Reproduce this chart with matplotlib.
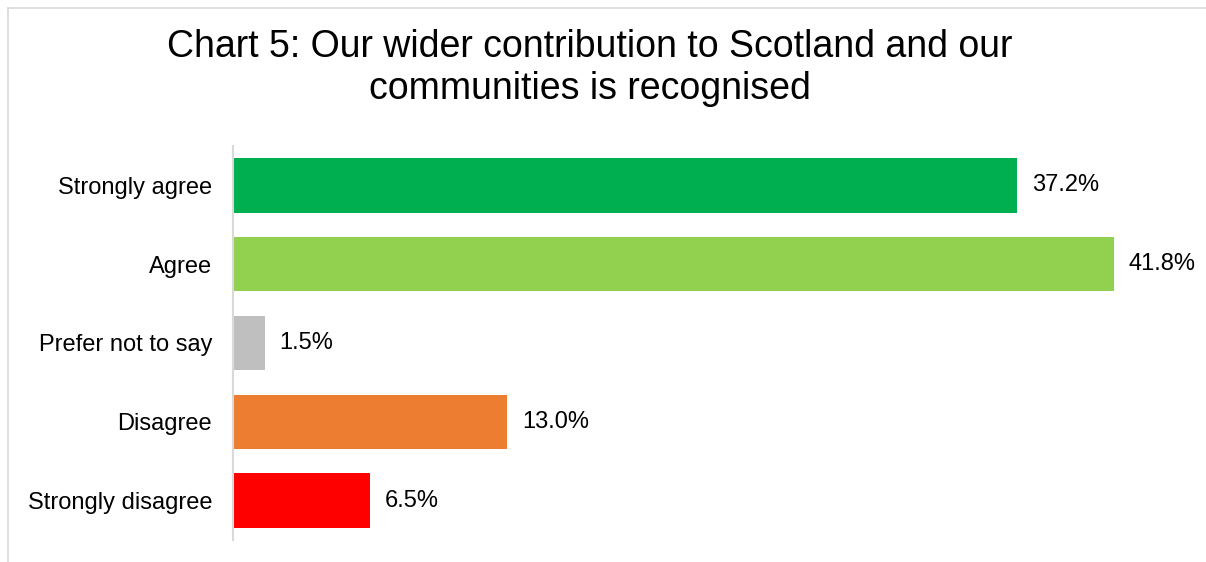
import matplotlib.pyplot as plt
from matplotlib.lines import Line2D

plt.rcParams['font.family'] = ['Liberation Sans', 'DejaVu Sans']

# survey responses, top to bottom
categories = ['Strongly agree', 'Agree', 'Prefer not to say', 'Disagree', 'Strongly disagree']
percent = [37.2, 41.8, 1.5, 13.0, 6.5]
colours = ['#00B050', '#92D050', '#BFBFBF', '#ED7D31', '#FF0000']

W, H = 1206, 562
fig = plt.figure(figsize=(W / 100, H / 100), dpi=100)
ax = fig.add_axes([233 / W, 1 - 540 / H, (1181 - 233) / W, (540 - 146) / H])

ypos = list(range(len(categories)))
ax.barh(ypos, percent, height=0.69, color=colours)
ax.set_ylim(len(categories) - 0.5, -0.5)
ax.set_xlim(0, 45)

for y, v in zip(ypos, percent):
    ax.annotate(f'{v:.1f}%', (v, y), xytext=(15, 0), textcoords='offset pixels',
                va='center', ha='left', fontsize=17, color='#000000')

ax.set_yticks(ypos)
ax.set_yticklabels(categories, fontsize=17)
ax.tick_params(axis='y', length=0, pad=15)
ax.set_xticks([])
for side in ['top', 'right', 'bottom']:
    ax.spines[side].set_visible(False)
ax.spines['left'].set_color('#D9D9D9')
ax.spines['left'].set_linewidth(1.5)

fig.text(590 / W, 1 - 68 / H,
         'Chart 5: Our wider contribution to Scotland and our\ncommunities is recognised',
         ha='center', va='center', fontsize=27, linespacing=1.2)

# chart frame (left and top edges visible)
fig.add_artist(Line2D([7.5 / W, 7.5 / W], [0, 1 - 7.5 / H], transform=fig.transFigure,
                      color='#D9D9D9', lw=1.2))
fig.add_artist(Line2D([7.5 / W, 1], [1 - 7.5 / H, 1 - 7.5 / H], transform=fig.transFigure,
                      color='#D9D9D9', lw=1.2))

fig.savefig('out.png', dpi=100)
